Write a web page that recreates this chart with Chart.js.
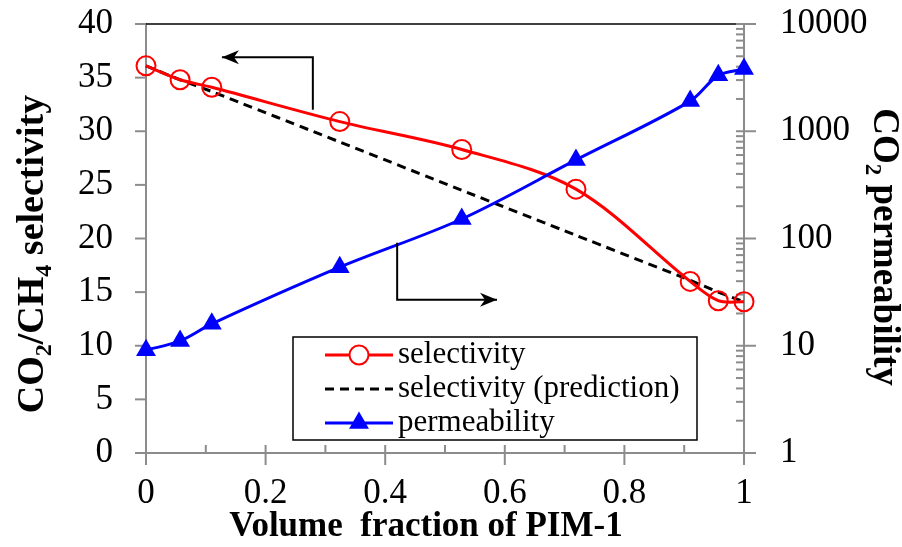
<!DOCTYPE html>
<html lang="en">
<head>
<meta charset="UTF-8">
<title>CO2/CH4 selectivity and CO2 permeability vs PIM-1 fraction</title>
<style>
  body { margin: 0; background: #fff; }
  #wrap { width: 902px; height: 547px; }
</style>
</head>
<body>
<div id="wrap"><canvas id="myChart"></canvas></div>
<script src="https://cdn.jsdelivr.net/npm/chart.js"></script>
<script>
// values
const volFraction = [0, 0.057, 0.11, 0.324, 0.528, 0.719, 0.91, 0.957, 1];
const selectivity = [36.1, 34.8, 34.1, 30.9, 28.3, 24.6, 16.0, 14.2, 14.1];
const selectivityPred = [36.1, 34.8, 33.7, 29.0, 24.5, 20.3, 16.1, 15.0, 14.1];
const permeability = [9.1, 11.1, 16, 54, 152, 540, 1910, 3320, 3800];
const seriesLabels = ['selectivity', 'selectivity (prediction)', 'permeability'];

const SERIF = '"Liberation Serif", "Times New Roman", serif';
const AXIS_GREY = '#8c8c8c';
const TICK_FONT = { family: SERIF, size: 35 };

function pts(ys) {
    return volFraction.map((x, i) => ({ x: x, y: ys[i] }));
}

// text with subscripts, rotated around its centre
function drawRich(ctx, parts, cx, cy, angle, size) {
    const main = 'bold ' + size + 'px ' + SERIF;
    const sub = 'bold ' + Math.round(size * 0.62) + 'px ' + SERIF;
    ctx.save();
    ctx.translate(cx, cy);
    ctx.rotate(angle);
    let total = 0;
    parts.forEach(p => { ctx.font = p.sub ? sub : main; total += ctx.measureText(p.t).width; });
    let x = -total / 2;
    ctx.textBaseline = 'middle';
    ctx.textAlign = 'left';
    ctx.fillStyle = '#000';
    parts.forEach(p => {
        ctx.font = p.sub ? sub : main;
        ctx.fillText(p.t, x, p.sub ? size * 0.32 : 0);
        x += ctx.measureText(p.t).width;
    });
    ctx.restore();
}

// polyline with a stealth arrow head at its last point
function drawArrow(ctx, path) {
    ctx.save();
    ctx.strokeStyle = '#000';
    ctx.fillStyle = '#000';
    ctx.lineWidth = 2;
    ctx.beginPath();
    ctx.moveTo(path[0][0], path[0][1]);
    for (let i = 1; i < path.length; i++) ctx.lineTo(path[i][0], path[i][1]);
    ctx.stroke();
    const [x1, y1] = path[path.length - 2];
    const [x2, y2] = path[path.length - 1];
    const a = Math.atan2(y2 - y1, x2 - x1);
    ctx.translate(x2, y2);
    ctx.rotate(a);
    ctx.beginPath();
    ctx.moveTo(0, 0);
    ctx.lineTo(-17, -7);
    ctx.lineTo(-12, 0);
    ctx.lineTo(-17, 7);
    ctx.closePath();
    ctx.fill();
    ctx.restore();
}

function line(ctx, x1, y1, x2, y2) {
    ctx.beginPath();
    ctx.moveTo(x1, y1);
    ctx.lineTo(x2, y2);
    ctx.stroke();
}

function noPad(s) {
    s.paddingTop = 0;
    s.paddingBottom = 0;
    s.paddingLeft = 0;
    s.paddingRight = 0;
}

const decorations = {
    id: 'decorations',
    beforeDatasetsDraw(chart) {
        const ctx = chart.ctx;
        const area = chart.chartArea;
        const xs = chart.scales.x, ys = chart.scales.y, y2 = chart.scales.y2;
        ctx.save();
        // top frame line
        ctx.strokeStyle = '#000';
        ctx.lineWidth = 1.5;
        line(ctx, area.left, area.top, area.right - 7, area.top);

        ctx.strokeStyle = AXIS_GREY;
        ctx.lineWidth = 2;
        // x ticks: majors cross the axis, minors inside
        xs.ticks.forEach((t, i) => {
            const px = xs.getPixelForValue(t.value);
            line(ctx, px, area.bottom - 8, px, area.bottom + 12);
            if (i < xs.ticks.length - 1) {
                const mx = xs.getPixelForValue((t.value + xs.ticks[i + 1].value) / 2);
                line(ctx, mx, area.bottom - 8, mx, area.bottom);
            }
        });
        // left ticks outward
        ys.ticks.forEach(t => {
            const py = ys.getPixelForValue(t.value);
            line(ctx, area.left - 11, py, area.left, py);
        });
        // right log ticks
        for (let d = 1; d < 10000; d *= 10) {
            for (let m = 1; m < 10; m++) {
                const py = y2.getPixelForValue(d * m);
                if (m === 1) line(ctx, area.right - 8, py, area.right + 12, py);
                else line(ctx, area.right - 8, py, area.right, py);
            }
        }
        const pTop = y2.getPixelForValue(10000);
        line(ctx, area.right - 8, pTop, area.right + 12, pTop);
        ctx.restore();
    },
    afterDraw(chart) {
        const ctx = chart.ctx;
        const area = chart.chartArea;
        const xs = chart.scales.x, ys = chart.scales.y;
        const X = v => xs.getPixelForValue(v);
        const Y = v => ys.getPixelForValue(v);

        // arrows pointing to the axis each series belongs to
        drawArrow(ctx, [[X(0.279), Y(32.0)], [X(0.279), Y(36.9)], [X(0.127), Y(36.9)]]);
        drawArrow(ctx, [[X(0.42), Y(19.6)], [X(0.42), Y(14.3)], [X(0.587), Y(14.3)]]);

        // legend box inside the plot
        const lx = area.left + 147, ly = area.top + 313, lw = 404, lh = 103;
        ctx.save();
        ctx.fillStyle = '#fff';
        ctx.fillRect(lx, ly, lw, lh);
        ctx.strokeStyle = '#000';
        ctx.lineWidth = 1.5;
        ctx.strokeRect(lx, ly, lw, lh);
        const ds = chart.data.datasets;
        ds.forEach((d, i) => {
            const ry = ly + 18 + i * 34;
            const x0 = lx + 32, x1 = lx + 100, xm = (x0 + x1) / 2;
            ctx.strokeStyle = d.borderColor;
            ctx.lineWidth = 3;
            ctx.setLineDash(d.borderDash || []);
            line(ctx, x0, ry, x1, ry);
            ctx.setLineDash([]);
            if (d.pointStyle === 'circle' && d.pointRadius > 0) {
                ctx.lineWidth = 2;
                ctx.strokeStyle = d.pointBorderColor;
                ctx.fillStyle = '#fff';
                ctx.beginPath();
                ctx.arc(xm, ry, d.pointRadius, 0, Math.PI * 2);
                ctx.fill();
                ctx.stroke();
            } else if (d.pointStyle === 'triangle') {
                const r = d.pointRadius;
                ctx.fillStyle = d.pointBackgroundColor;
                ctx.beginPath();
                ctx.moveTo(xm, ry - r);
                ctx.lineTo(xm + r * 0.866, ry + r * 0.5);
                ctx.lineTo(xm - r * 0.866, ry + r * 0.5);
                ctx.closePath();
                ctx.fill();
            }
            ctx.fillStyle = '#000';
            ctx.font = '31px ' + SERIF;
            ctx.textBaseline = 'middle';
            ctx.textAlign = 'left';
            ctx.fillText(d.label, x1 + 5, ry);
        });
        ctx.restore();

        // axis titles
        drawRich(ctx, [{ t: 'Volume  fraction of PIM-1' }], (area.left + area.right) / 2 - 19, area.bottom + 74, 0, 35);
        drawRich(ctx, [{ t: 'CO' }, { t: '2', sub: true }, { t: '/CH' }, { t: '4', sub: true }, { t: ' selectivity' }],
            33, 254, -Math.PI / 2, 38);
        drawRich(ctx, [{ t: 'CO' }, { t: '2', sub: true }, { t: ' permeability' }],
            884, 247, Math.PI / 2, 37);
    }
};

const ctx = document.getElementById('myChart');

new Chart(ctx, {
    type: 'line',
    data: {
        datasets: [{
            label: seriesLabels[0],
            data: pts(selectivity),
            yAxisID: 'y',
            borderColor: '#ff0000',
            borderWidth: 3,
            pointStyle: 'circle',
            pointRadius: 9.5,
            pointBorderWidth: 2,
            pointBorderColor: '#ff0000',
            pointBackgroundColor: 'rgba(0,0,0,0)',
            tension: 0.33,
            clip: false,
            order: 1
        }, {
            label: seriesLabels[1],
            data: pts(selectivityPred),
            yAxisID: 'y',
            borderColor: '#000000',
            borderWidth: 3,
            borderDash: [9, 6],
            pointStyle: 'circle',
            pointRadius: 0,
            tension: 0.2,
            clip: false,
            order: 2
        }, {
            label: seriesLabels[2],
            data: pts(permeability),
            yAxisID: 'y2',
            borderColor: '#0000ff',
            borderWidth: 3,
            pointStyle: 'triangle',
            pointRadius: 11.5,
            pointBorderWidth: 0,
            pointBorderColor: '#0000ff',
            pointBackgroundColor: '#0000ff',
            tension: 0.33,
            clip: false,
            order: 0
        }]
    },
    options: {
        responsive: true,
        maintainAspectRatio: false,
        animation: false,
        layout: { padding: { top: 24, left: 0, right: 0, bottom: 0 } },
        scales: {
            x: {
                type: 'linear',
                min: 0,
                max: 1,
                ticks: {
                    stepSize: 0.2,
                    color: '#000',
                    font: TICK_FONT,
                    padding: 20,
                    callback: v => (v === 0 || v === 1) ? String(v) : v.toFixed(1)
                },
                grid: { display: false, drawTicks: false },
                border: { display: true, color: AXIS_GREY, width: 2 },
                afterFit(s) { s.height = 94; noPad(s); }
            },
            y: {
                position: 'left',
                min: 0,
                max: 40,
                ticks: { stepSize: 5, color: '#000', font: TICK_FONT, padding: 33 },
                grid: { display: false, drawTicks: false },
                border: { display: true, color: AXIS_GREY, width: 2 },
                afterFit(s) { s.width = 146; noPad(s); }
            },
            y2: {
                type: 'logarithmic',
                position: 'right',
                min: 1,
                max: 10000,
                ticks: {
                    autoSkip: false,
                    color: '#000',
                    font: TICK_FONT,
                    padding: 36,
                    callback: v => Math.abs(Math.log10(v) - Math.round(Math.log10(v))) < 1e-9 ? String(v) : ''
                },
                grid: { display: false, drawTicks: false },
                border: { display: true, color: AXIS_GREY, width: 2 },
                afterFit(s) { s.width = 158; noPad(s); }
            }
        },
        plugins: {
            legend: { display: false },
            title: { display: false },
            tooltip: { enabled: false }
        }
    },
    plugins: [decorations]
});
</script>
</body>
</html>
